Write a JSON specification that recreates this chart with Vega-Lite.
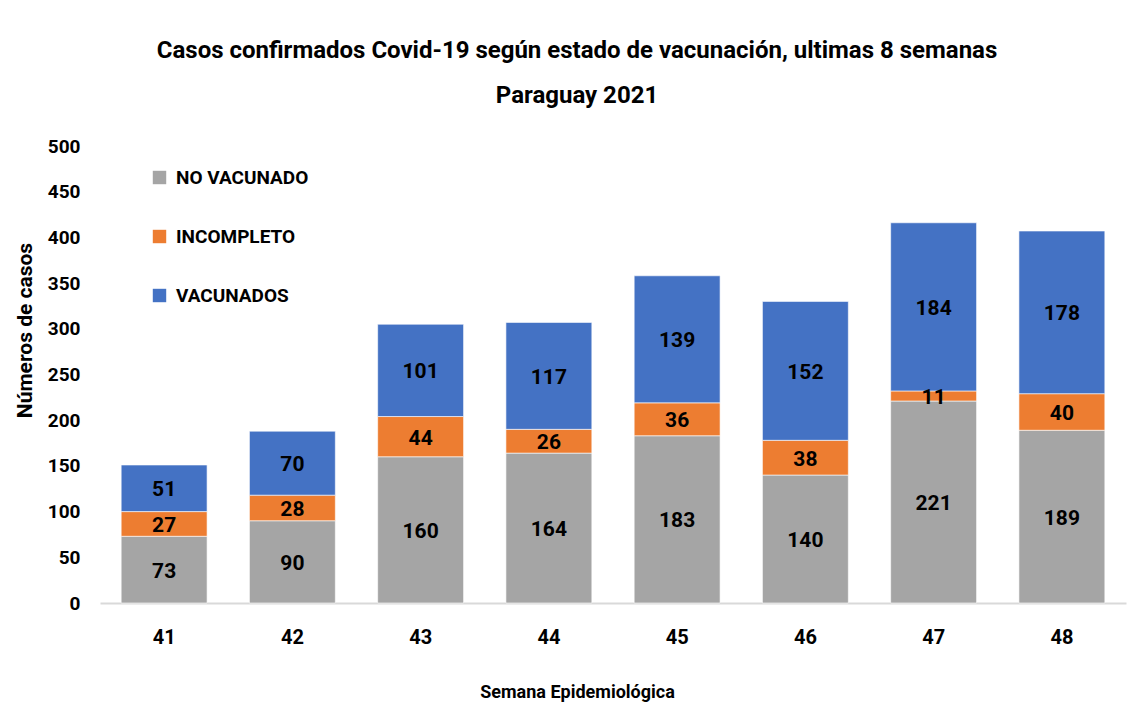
{
  "$schema": "https://vega.github.io/schema/vega-lite/v6.json",
  "autosize": "none",
  "width": 1026,
  "height": 457,
  "padding": {"left": 100, "top": 146, "right": 21, "bottom": 124},
  "background": "white",
  "title": {
    "text": ["Casos confirmados Covid-19 según estado de vacunación, ultimas 8 semanas", "Paraguay 2021"],
    "font": "Roboto",
    "fontSize": 24,
    "fontWeight": "bold",
    "color": "#000000",
    "anchor": "middle",
    "dx": -36,
    "offset": 29,
    "lineHeight": 45
  },
  "data": {
    "values": [
      {"semana": "41", "estado": "NO VACUNADO", "orden": 1, "casos": 73},
      {"semana": "41", "estado": "INCOMPLETO", "orden": 2, "casos": 27},
      {"semana": "41", "estado": "VACUNADOS", "orden": 3, "casos": 51},
      {"semana": "42", "estado": "NO VACUNADO", "orden": 1, "casos": 90},
      {"semana": "42", "estado": "INCOMPLETO", "orden": 2, "casos": 28},
      {"semana": "42", "estado": "VACUNADOS", "orden": 3, "casos": 70},
      {"semana": "43", "estado": "NO VACUNADO", "orden": 1, "casos": 160},
      {"semana": "43", "estado": "INCOMPLETO", "orden": 2, "casos": 44},
      {"semana": "43", "estado": "VACUNADOS", "orden": 3, "casos": 101},
      {"semana": "44", "estado": "NO VACUNADO", "orden": 1, "casos": 164},
      {"semana": "44", "estado": "INCOMPLETO", "orden": 2, "casos": 26},
      {"semana": "44", "estado": "VACUNADOS", "orden": 3, "casos": 117},
      {"semana": "45", "estado": "NO VACUNADO", "orden": 1, "casos": 183},
      {"semana": "45", "estado": "INCOMPLETO", "orden": 2, "casos": 36},
      {"semana": "45", "estado": "VACUNADOS", "orden": 3, "casos": 139},
      {"semana": "46", "estado": "NO VACUNADO", "orden": 1, "casos": 140},
      {"semana": "46", "estado": "INCOMPLETO", "orden": 2, "casos": 38},
      {"semana": "46", "estado": "VACUNADOS", "orden": 3, "casos": 152},
      {"semana": "47", "estado": "NO VACUNADO", "orden": 1, "casos": 221},
      {"semana": "47", "estado": "INCOMPLETO", "orden": 2, "casos": 11},
      {"semana": "47", "estado": "VACUNADOS", "orden": 3, "casos": 184},
      {"semana": "48", "estado": "NO VACUNADO", "orden": 1, "casos": 189},
      {"semana": "48", "estado": "INCOMPLETO", "orden": 2, "casos": 40},
      {"semana": "48", "estado": "VACUNADOS", "orden": 3, "casos": 178}
    ]
  },
  "transform": [
    {"stack": "casos", "groupby": ["semana"], "sort": [{"field": "orden", "order": "ascending"}], "as": ["y0", "y1"]},
    {"calculate": "(datum.y0 + datum.y1) / 2", "as": "ymid"}
  ],
  "encoding": {
    "x": {
      "field": "semana",
      "type": "ordinal",
      "scale": {"paddingInner": 0.33, "paddingOuter": 0.165},
      "axis": {
        "title": "Semana Epidemiológica",
        "labelAngle": 0,
        "labelFont": "Roboto",
        "labelFontSize": 20,
        "labelFontWeight": "bold",
        "labelColor": "#000000",
        "labelPadding": 24,
        "ticks": false,
        "domainColor": "#D9D9D9",
        "domainWidth": 2,
        "titleFont": "Roboto",
        "titleFontSize": 18,
        "titleFontWeight": "bold",
        "titleColor": "#000000",
        "titleX": 477,
        "titleAnchor": "start",
        "titleAlign": "center",
        "titlePadding": 36
      }
    }
  },
  "layer": [
    {
      "mark": {"type": "bar", "stroke": "white", "strokeWidth": 1, "strokeOpacity": 0.6},
      "encoding": {
        "y": {
          "field": "y0",
          "type": "quantitative",
          "scale": {"domain": [0, 500]},
          "axis": {
            "title": "Números de casos",
            "values": [0, 50, 100, 150, 200, 250, 300, 350, 400, 450, 500],
            "grid": false,
            "domain": false,
            "ticks": false,
            "labelFont": "Roboto",
            "labelFontSize": 19,
            "labelFontWeight": "bold",
            "labelColor": "#000000",
            "labelPadding": 20,
            "titleFont": "Roboto",
            "titleFontSize": 21,
            "titleFontWeight": "bold",
            "titleColor": "#000000",
            "titleY": 184,
            "titleAnchor": "start",
            "titleAlign": "center",
            "titlePadding": 12
          }
        },
        "y2": {"field": "y1"},
        "color": {
          "field": "estado",
          "type": "nominal",
          "sort": ["NO VACUNADO", "INCOMPLETO", "VACUNADOS"],
          "scale": {"domain": ["NO VACUNADO", "INCOMPLETO", "VACUNADOS"], "range": ["#A5A5A5", "#ED7D31", "#4472C4"]},
          "legend": {
            "title": null,
            "orient": "none",
            "legendX": 50,
            "legendY": 22,
            "symbolType": "square",
            "symbolSize": 180,
            "symbolStrokeWidth": 0,
            "labelFont": "Roboto",
            "labelFontSize": 19,
            "labelFontWeight": "bold",
            "labelColor": "#000000",
            "labelOffset": 7,
            "rowPadding": 39
          }
        }
      }
    },
    {
      "mark": {"type": "text", "font": "Roboto", "fontSize": 21, "fontWeight": "bold", "color": "#000000", "baseline": "middle", "dy": 2},
      "encoding": {
        "y": {"field": "ymid", "type": "quantitative"},
        "text": {"field": "casos", "type": "quantitative"}
      }
    }
  ],
  "config": {"view": {"stroke": null}}
}
